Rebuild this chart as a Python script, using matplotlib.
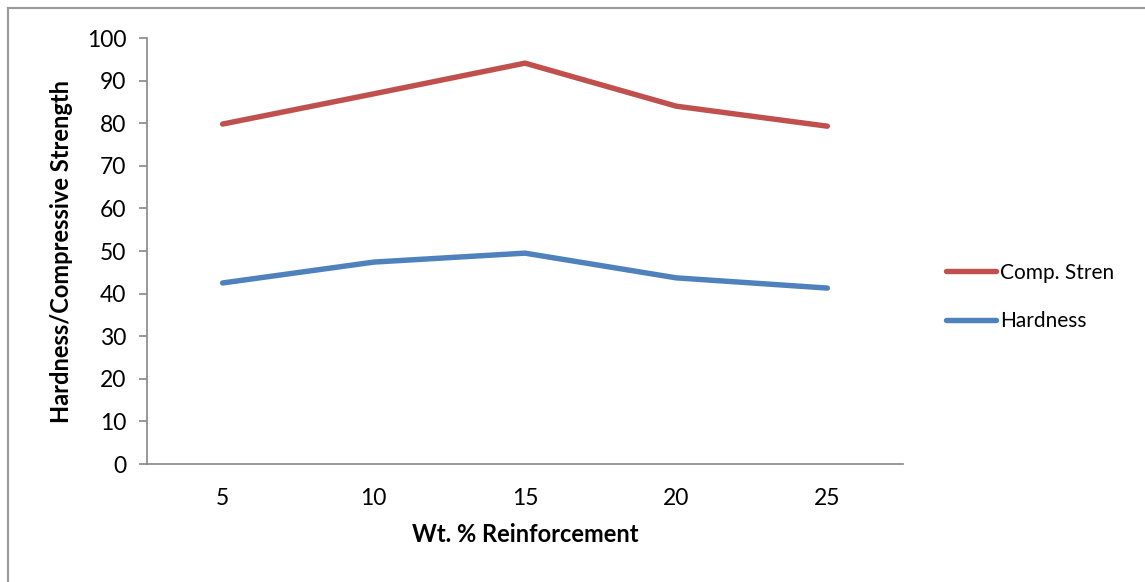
import matplotlib.pyplot as plt
from matplotlib.lines import Line2D

# data
categories = ["5", "10", "15", "20", "25"]
comp_stren = [79.8, 86.9, 94.1, 84.0, 79.3]
hardness = [42.5, 47.4, 49.5, 43.7, 41.3]

plt.rcParams['font.family'] = ['Lato', 'DejaVu Sans']

fig = plt.figure(figsize=(11.45, 5.82), dpi=100)
ax = fig.add_axes([0.1284, 0.2027, 0.6602, 0.732])

x = range(len(categories))
ax.plot(x, comp_stren, color="#C0504D", lw=3.9, solid_capstyle="round", solid_joinstyle="round", label="Comp. Stren")
ax.plot(x, hardness, color="#4F81BD", lw=3.9, solid_capstyle="round", solid_joinstyle="round", label="Hardness")

ax.set_xlim(-0.5, len(categories) - 0.5)
ax.set_ylim(0, 100)
ax.set_yticks(range(0, 101, 10))
ax.set_xticks(list(x))
ax.set_xticklabels(categories)
ax.tick_params(axis="x", length=0, pad=17, labelsize=16.5)
ax.tick_params(axis="y", length=6, width=1.2, color="#888888", pad=9, labelsize=16.5)

for s in ["top", "right"]:
    ax.spines[s].set_visible(False)
for s in ["left", "bottom"]:
    ax.spines[s].set_color("#888888")
    ax.spines[s].set_linewidth(1.2)

ax.set_xlabel("Wt. % Reinforcement", fontsize=17, fontweight="bold", labelpad=10)
ax.set_ylabel("Hardness/Compressive Strength", fontsize=17, fontweight="bold", labelpad=10)

ax.legend(loc="center left", bbox_to_anchor=(0.81, 0.49), bbox_transform=fig.transFigure,
          frameon=False, fontsize=15, handlelength=2.4, handletextpad=0.2, labelspacing=1.35)

# chart-area border (top and left edges visible)
fig.add_artist(Line2D([8 / 1145, 1.01], [1 - 8 / 582, 1 - 8 / 582], transform=fig.transFigure, color="#999999", lw=1.5))
fig.add_artist(Line2D([8 / 1145, 8 / 1145], [-0.01, 1 - 8 / 582], transform=fig.transFigure, color="#999999", lw=1.5))

fig.savefig("out.png", dpi=100)
